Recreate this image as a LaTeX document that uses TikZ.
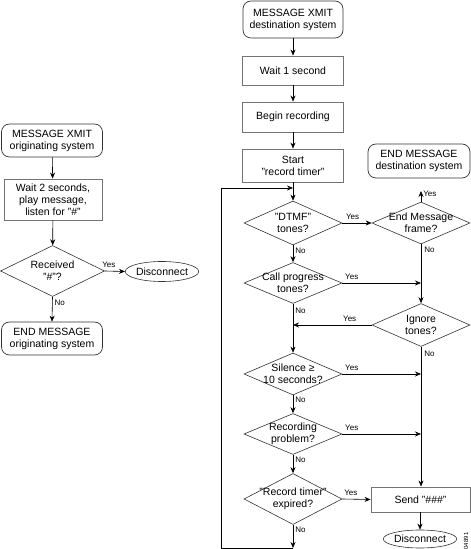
\documentclass[tikz,border=0pt]{standalone}
\usepackage{fontspec}
\setmainfont{Liberation Sans}
\usetikzlibrary{shapes.geometric,arrows.meta}
\begin{document}
\begin{tikzpicture}[x=1pt,y=1pt,
  every node/.style={font=\fontsize{10.5}{12}\selectfont, align=center, inner sep=0pt},
  term/.style={draw=black!80, rounded corners=8pt, minimum width=101pt, minimum height=33pt, line width=0.7pt},
  proc/.style={draw=black!55, minimum width=101pt, line width=0.9pt},
  dec/.style={draw=black!80, diamond, minimum width=98pt, minimum height=42pt, line width=0.6pt},
  oval/.style={draw=black!80, ellipse, line width=0.6pt},
  flow/.style={-{Stealth[length=6pt,width=5pt]}, line width=0.6pt},
  plain/.style={line width=0.6pt},
  lbl/.style={font=\fontsize{8}{9}\selectfont}
]
\useasboundingbox (0,0) rectangle (471,549);

% left column
\node[term] (o1) at (52,408.5) {MESSAGE XMIT\\originating system};
\node[proc, minimum width=98pt, minimum height=41pt] (o2) at (53,349.5) {Wait 2 seconds,\\play message,\\listen for "\#"};
\node[dec, minimum width=104pt, minimum height=51pt, label={center:{Received\\"\#"?}}] (o3) at (52.5,278) {};
\node[oval, minimum width=57pt, minimum height=20pt] (dc1) at (162,277.5) {Disconnect};
\node[term] (o4) at (52,210.5) {END MESSAGE\\originating system};

% right column
\node[term, minimum width=100pt, minimum height=37pt] (d0) at (293,529.5) {MESSAGE XMIT\\destination system};
\node[proc, minimum height=29pt] (w1) at (293,478.5) {Wait 1 second};
\node[proc, minimum height=30pt] (br) at (293,432) {Begin recording};
\node[proc, minimum height=33pt] (st) at (293,383.5) {Start\\"record timer"};
\node[term, minimum width=102pt, minimum height=34pt] (em) at (419,388) {END MESSAGE\\destination system};
\node[dec, minimum height=44pt, label={center:{"DTMF"\\tones?}}] (dt) at (293,326) {};
\node[dec, label={center:{End Message\\frame?}}] (ef) at (421,326) {};
\node[dec, minimum height=41pt, label={center:{Call progress\\tones?}}] (cp) at (293,266) {};
\node[dec, minimum height=43pt, label={center:{Ignore\\tones?}}] (ig) at (421,224) {};
\node[dec, label={center:{Silence ≥\\10 seconds?}}] (si) at (293,175) {};
\node[dec, minimum height=41pt, label={center:{Recording\\problem?}}] (rp) at (293,115) {};
\node[dec, minimum height=51pt, label={center:{"Record timer"\\expired?}}] (rt) at (293,50) {};
\node[proc, minimum width=99pt, minimum height=25pt] (sd) at (420.5,49.5) {Send "\#\#\#"};
\node[oval, minimum width=62pt, minimum height=18pt] (dc2) at (420,10) {Disconnect};
\node[rotate=90, font=\fontsize{6}{7}\selectfont] (id) at (466,8) {04891};

\coordinate (emy) at (421,358);
\coordinate (loopin) at (293,361);
\coordinate (bot) at (293,1);
\coordinate (botl) at (221,1);
\coordinate (topl) at (221,361);
\coordinate (j1) at (421,266);
\coordinate (j2) at (421,175);
\coordinate (j3) at (421,115);
\coordinate (j4) at (293,224);

% left connectors
\draw[flow] (o1) -- (o2);
\draw[flow] (o2) -- (o3);
\draw[flow] (o3.east) -- node[lbl, above=3pt, pos=0.2] {Yes} (dc1.west);
\draw[flow] (o3.south) -- node[lbl, right=2pt, pos=0.25] {No} (o4.north);

% right connectors
\draw[flow] (d0) -- (w1);
\draw[flow] (w1) -- (br);
\draw[flow] (br) -- (st);
\draw[flow] (st) -- (dt);
\draw[flow] (dt.east) -- node[lbl, above=3pt, pos=0.35] {Yes} (ef.west);
\draw[flow] (ef.north) -- node[lbl, right=2pt, pos=0.7] {Yes} (emy);
\draw[flow] (ef.south) -- node[lbl, right=3pt, pos=0.1] {No} (ig.north);
\draw[flow] (dt.south) -- node[lbl, right=2pt, pos=0.3] {No} (cp.north);
\draw[flow] (cp.east) -- node[lbl, above=3pt, pos=0.12] {Yes} (j1);
\draw[flow] (ig.west) -- node[lbl, above=3pt, pos=0.28] {Yes} (j4);
\draw[flow] (ig.south) -- node[lbl, right=3pt, pos=0.05] {No} (sd.north -| ig.south);
\draw[flow] (cp.south) -- node[lbl, right=2pt, pos=0.14] {No} (si.north);
\draw[flow] (si.east) -- node[lbl, above=3pt, pos=0.12] {Yes} (j2);
\draw[flow] (si.south) -- node[lbl, right=2pt, pos=0.27] {No} (rp.north);
\draw[flow] (rp.east) -- node[lbl, above=3pt, pos=0.12] {Yes} (j3);
\draw[flow] (rp.south) -- node[lbl, right=2pt, pos=0.29] {No} (rt.north);
\draw[flow] (rt.east) -- node[lbl, above=3pt, pos=0.3] {Yes} (sd.west);
\draw[flow] (sd.south -| dc2.north) -- (dc2.north);
\draw[flow] (rt.south) -- node[lbl, right=2pt, pos=0.23] {No} (bot);
\draw[flow] (bot) -- (botl) -- (topl) -- (loopin);
\end{tikzpicture}
\end{document}
